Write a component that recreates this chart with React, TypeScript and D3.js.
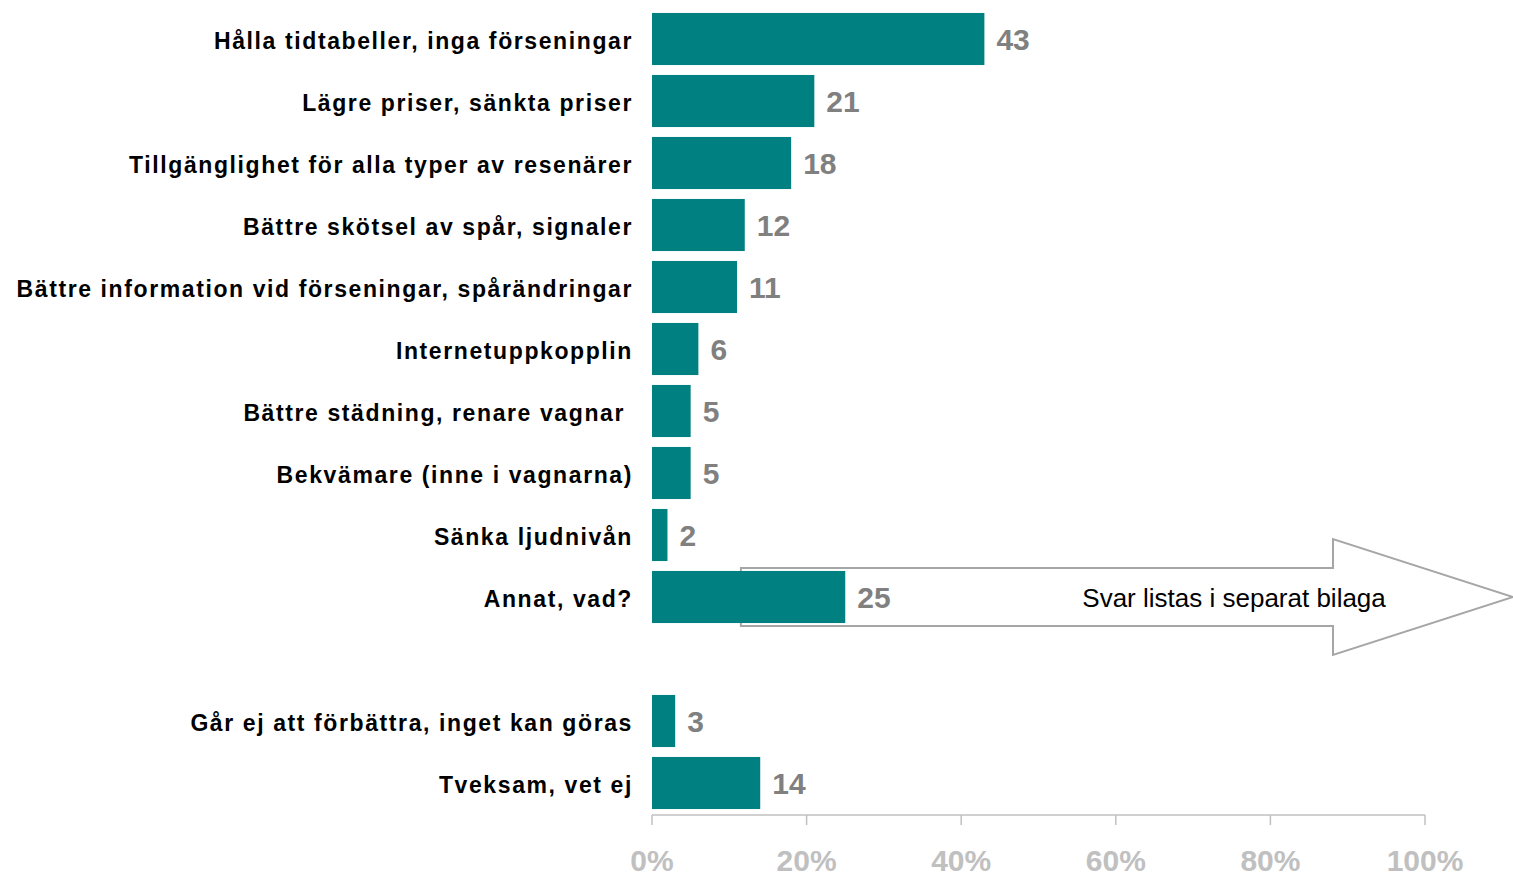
import React from "react";
import * as d3 from "d3";

const categories = [
  "Hålla tidtabeller, inga förseningar",
  "Lägre priser, sänkta priser",
  "Tillgänglighet för alla typer av resenärer",
  "Bättre skötsel av spår, signaler",
  "Bättre information vid förseningar, spårändringar",
  "Internetuppkopplin",
  "Bättre städning, renare vagnar ",
  "Bekvämare (inne i vagnarna)",
  "Sänka ljudnivån",
  "Annat, vad?",
  "",
  "Går ej att förbättra, inget kan göras",
  "Tveksam, vet ej",
];
const values: (number | null)[] = [43, 21, 18, 12, 11, 6, 5, 5, 2, 25, null, 3, 14];
const ticks = [0, 20, 40, 60, 80, 100];
const tickLabels = ["0%", "20%", "40%", "60%", "80%", "100%"];
const noteText = "Svar listas i separat bilaga";

export default function App() {
  const W = 1513;
  const H = 876;
  const x = d3.scaleLinear().domain([0, 100]).range([652, 1425]);
  const keys = categories.map((_, i) => String(i));
  const y = d3
    .scaleBand()
    .domain(keys)
    .range([8, 814])
    .paddingInner(0.16)
    .paddingOuter(0.08);
  const bw = y.bandwidth();
  const axisY = 815;

  const annatY = y("9")! + bw / 2;
  const ax0 = x(11.5);
  const ax1 = x(88.1);
  const axTip = x(111.4);
  const shaftHalf = 29;
  const headHalf = 58;
  const arrowPath = d3.path();
  arrowPath.moveTo(ax0, annatY - shaftHalf);
  arrowPath.lineTo(ax1, annatY - shaftHalf);
  arrowPath.lineTo(ax1, annatY - headHalf);
  arrowPath.lineTo(axTip, annatY);
  arrowPath.lineTo(ax1, annatY + headHalf);
  arrowPath.lineTo(ax1, annatY + shaftHalf);
  arrowPath.lineTo(ax0, annatY + shaftHalf);
  arrowPath.closePath();

  return (
    <svg
      width={W}
      height={H}
      style={{ position: "absolute", left: 0, top: 0, fontFamily: "Liberation Sans, Arial, sans-serif" }}
    >
      <rect width={W} height={H} fill="#ffffff" />
      <path d={arrowPath.toString()} fill="#ffffff" stroke="#a6a6a6" strokeWidth={2} />
      <text x={x(75.3)} y={annatY} dy="0.37em" textAnchor="middle" fontSize={26} fill="#000">
        {noteText}
      </text>
      {categories.map((c, i) => {
        const v = values[i];
        const yy = y(String(i))!;
        if (v === null) return null;
        return (
          <g key={i}>
            <rect x={x(0)} y={yy} width={x(v) - x(0)} height={bw} fill="#008080" />
            <text
              x={633}
              y={yy + bw / 2}
              dy="0.42em"
              textAnchor="end"
              fontSize={23}
              fontWeight="bold"
              letterSpacing={1.6}
              fill="#000"
              style={{ whiteSpace: "pre" }}
            >
              {c}
            </text>
            <text
              x={x(v) + 12}
              y={yy + bw / 2}
              dy="0.38em"
              fontSize={30}
              fontWeight="bold"
              fill="#808080"
            >
              {v}
            </text>
          </g>
        );
      })}
      <line x1={x(0)} x2={x(100)} y1={axisY} y2={axisY} stroke="#c0c0c0" strokeWidth={1.5} />
      {ticks.map((t, i) => (
        <g key={t}>
          <line x1={x(t)} x2={x(t)} y1={axisY} y2={axisY + 10} stroke="#c0c0c0" strokeWidth={1.5} />
          <text x={x(t)} y={871} textAnchor="middle" fontSize={30} fontWeight="bold" fill="#c0c0c0">
            {tickLabels[i]}
          </text>
        </g>
      ))}
    </svg>
  );
}
